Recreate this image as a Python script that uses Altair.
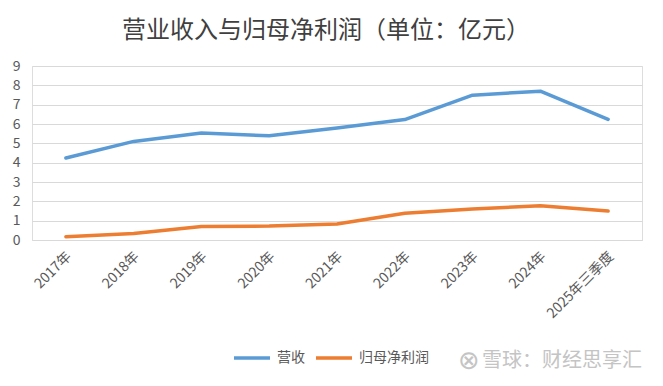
import altair as alt
import pandas as pd

categories = ["2017年", "2018年", "2019年", "2020年", "2021年", "2022年", "2023年", "2024年", "2025年三季度"]
revenue = [4.24, 5.10, 5.53, 5.39, 5.79, 6.23, 7.49, 7.70, 6.24]
profit = [0.17, 0.34, 0.70, 0.72, 0.83, 1.38, 1.60, 1.77, 1.50]
series_names = ["营收", "归母净利润"]
series_colors = ["#5B9BD5", "#ED7D31"]
y_ticks = list(range(0, 10))
title_text = "营业收入与归母净利润（单位：亿元）"
watermark = "雪球：财经思享汇"

FONT = "Noto Sans CJK SC"

rows = []
for c, v in zip(categories, revenue):
    rows.append({"period": c, "series": series_names[0], "value": v})
for c, v in zip(categories, profit):
    rows.append({"period": c, "series": series_names[1], "value": v})
df = pd.DataFrame(rows)

lines = alt.Chart(df).mark_line(strokeWidth=3.5, strokeCap="round", strokeJoin="round").encode(
    x=alt.X("period:N", sort=categories, scale=alt.Scale(padding=0.5),
            axis=alt.Axis(title=None, labelAngle=315, labelAlign="right", labelBaseline="middle",
                          labelPadding=14, labelOffset=3, labelFontSize=14, labelColor="#595959",
                          labelFont=FONT, ticks=False, domain=True, domainColor="#D9D9D9", grid=False)),
    y=alt.Y("value:Q", scale=alt.Scale(domain=[0, 9], nice=False),
            axis=alt.Axis(title=None, values=y_ticks, labelPadding=12, labelFontSize=14,
                          labelColor="#595959", labelFont=FONT, ticks=False, domain=False,
                          grid=True, gridColor="#D9D9D9", gridWidth=1)),
    color=alt.Color("series:N", sort=series_names,
                    scale=alt.Scale(domain=series_names, range=series_colors),
                    legend=alt.Legend(title=None, orient="none", legendX=200, legendY=272,
                                      direction="horizontal", symbolType="stroke",
                                      symbolSize=1296, symbolStrokeWidth=3.5,
                                      labelFontSize=14, labelColor="#595959", labelFont=FONT,
                                      labelOffset=5, columnPadding=4, padding=0)),
)

wm = alt.Chart(pd.DataFrame({"t": [watermark]})).mark_text(
    align="left", baseline="middle", fontSize=20, color="#C4C4C4", font=FONT
).encode(x=alt.value(450), y=alt.value(295), text="t:N")

logo = alt.Chart(pd.DataFrame({"t": ["⊗"]})).mark_text(
    align="center", baseline="middle", fontSize=26, color="#C4C4C4", font="DejaVu Sans"
).encode(x=alt.value(437), y=alt.value(295), text="t:N")

chart = alt.layer(lines, logo, wm).properties(
    width=610, height=174,
    autosize=alt.AutoSizeParams(type="none"),
    padding={"left": 24, "top": 58, "right": 13, "bottom": 138},
    title=alt.Title(title_text, fontSize=24, font=FONT, fontWeight="normal", color="#404040",
                    anchor="middle", dx=-11, offset=16),
).configure_view(stroke=None).configure(background="white")

chart.save("out.html", embed_options={"renderer": "svg", "actions": False})
